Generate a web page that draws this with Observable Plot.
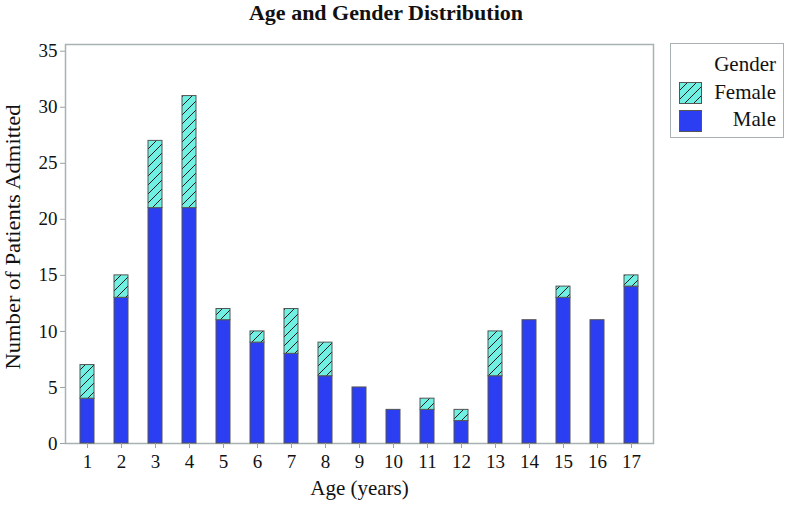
<!DOCTYPE html>
<html>
<head>
<meta charset="utf-8">
<script src="https://cdn.jsdelivr.net/npm/d3@7"></script>
<script src="https://cdn.jsdelivr.net/npm/@observablehq/plot@0.6"></script>
<style>
  body { margin: 0; background: #fff; }
  #wrap { position: relative; width: 786px; height: 506px; font-family: "Liberation Serif", "Times New Roman", serif; color: #111; }
  #title { position: absolute; left: 0; width: 772px; top: 0px; text-align: center; font-weight: bold; font-size: 22px; line-height: 25px; }
  #legend { position: absolute; left: 670px; top: 43px; width: 114px; height: 95px; border: 1px solid #a8b2b2; box-sizing: border-box; }
  #legend .t { position: absolute; right: 7px; font-size: 21px; line-height: 23px; }
  #legend svg { position: absolute; left: 8px; }
  #chart svg g[aria-label$="tick"] { stroke: #9aa3a3; }
</style>
</head>
<body>
<div id="wrap">
  <div id="chart"></div>
  <div id="title">Age and Gender Distribution</div>
  <div id="legend">
    <div class="t" style="top:9px">Gender</div>
    <svg width="23" height="22" style="top:38px"><rect x="0.5" y="0.5" width="22" height="21" fill="url(#hatch)" stroke="#555"/></svg>
    <div class="t" style="top:37px">Female</div>
    <svg width="23" height="22" style="top:66px"><rect x="0.5" y="0.5" width="22" height="21" fill="#2b3ef2" stroke="#555"/></svg>
    <div class="t" style="top:64px">Male</div>
  </div>
</div>
<script>
const ages = [1,2,3,4,5,6,7,8,9,10,11,12,13,14,15,16,17];
const male = [4,13,21,21,11,9,8,6,5,3,3,2,6,11,13,11,14];
const female = [3,2,6,10,1,1,4,3,0,0,1,1,4,0,1,0,1];
const genders = ["Male","Female"];
const yTicks = [0,5,10,15,20,25,30,35];

const rows = [];
ages.forEach((a, i) => {
  rows.push({age: a, gender: "Male", count: male[i]});
  if (female[i] > 0) rows.push({age: a, gender: "Female", count: female[i]});
});

const chart = Plot.plot({
  width: 786,
  height: 506,
  marginLeft: 65,
  marginRight: 133,
  marginTop: 44,
  marginBottom: 63,
  style: {fontFamily: '"Liberation Serif", "Times New Roman", serif', fontSize: "19px", color: "#111", background: "transparent"},
  x: {type: "band", domain: ages, paddingInner: 0.6, paddingOuter: 0.3, label: null},
  y: {domain: [0, 35.6], label: null},
  color: {domain: genders, range: ["#2b3ef2", "url(#hatch)"]},
  marks: [
    Plot.frame({stroke: "#a8b2b2", strokeWidth: 1.5}),
    Plot.barY(rows, Plot.stackY({x: "age", y: "count", fill: "gender", order: genders, stroke: "#555", strokeWidth: 1})),
    Plot.axisY({ticks: yTicks, tickSize: 5, tickPadding: 3, fontSize: 19, label: null}),
    Plot.axisX({tickSize: 5, tickPadding: 6, fontSize: 19, label: null}),
    Plot.text(["Age (years)"], {frameAnchor: "bottom", dy: 51, text: d => d, fontSize: 21, lineAnchor: "bottom"}),
    Plot.text(["Number of Patients Admitted"], {frameAnchor: "left", dx: -52, dy: -7, rotate: -90, textAnchor: "middle", text: d => d, fontSize: 21, className: "ylab"})
  ]
});

const svgNS = "http://www.w3.org/2000/svg";
const defs = document.createElementNS(svgNS, "defs");
defs.innerHTML = `<pattern id="hatch" patternUnits="userSpaceOnUse" width="9" height="9">
  <rect width="9" height="9" fill="#6ff0e2"/>
  <path d="M-1,1 L1,-1 M0,9 L9,0 M8,10 L10,8" stroke="#1a1a1a" stroke-width="1"/>
</pattern>`;
chart.insertBefore(defs, chart.firstChild);
chart.querySelectorAll(".ylab text").forEach(t => {
  t.setAttribute("textLength", "265");
  t.setAttribute("lengthAdjust", "spacingAndGlyphs");
});
document.getElementById("chart").appendChild(chart);
</script>
</body>
</html>
